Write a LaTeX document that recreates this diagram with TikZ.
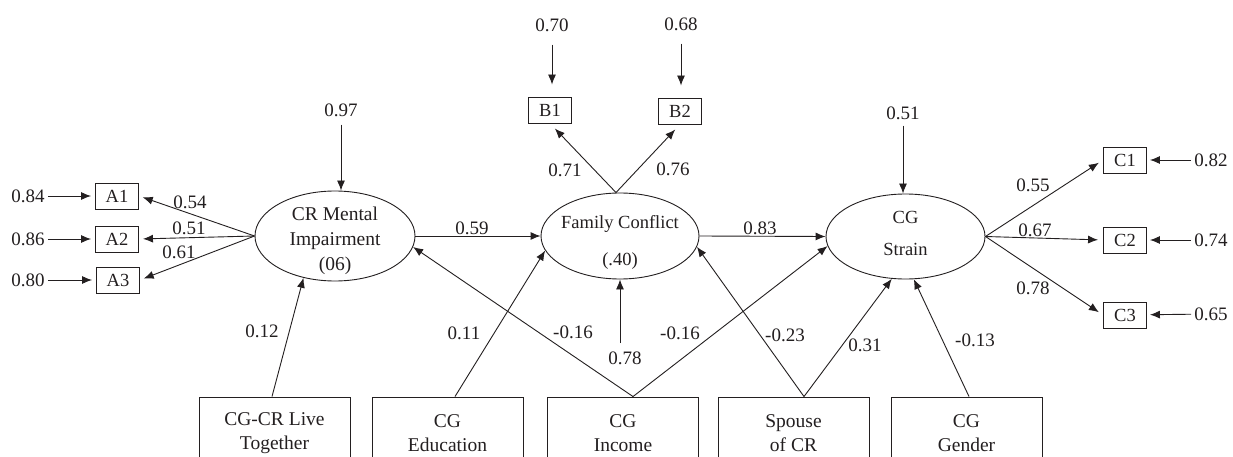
\documentclass[tikz,border=0pt]{standalone}
\usepackage{fontspec}
\setmainfont{Liberation Serif}
\usetikzlibrary{arrows.meta,shapes.geometric}
\definecolor{ink}{HTML}{231F20}
\begin{document}
\begin{tikzpicture}[x=1pt,y=-1pt,
  every node/.style={text=ink},
  num/.style={font=\fontsize{19}{23}\selectfont, inner sep=3pt},
  ind/.style={rectangle, draw=ink, line width=0.9pt, minimum width=43pt, minimum height=26pt, inner sep=0pt, font=\fontsize{18.5}{22}\selectfont},
  lat/.style={ellipse, draw=ink, line width=0.9pt, minimum width=160pt, minimum height=90pt, inner sep=0pt},
  ltext/.style={align=center, font=\fontsize{18.5}{24}\selectfont, inner sep=0pt},
  exo/.style={rectangle, draw=ink, line width=0.9pt, minimum width=151pt, minimum height=72pt, align=center, font=\fontsize{19.5}{24}\selectfont},
  arr/.style={draw=ink, line width=0.9pt, -{Latex[length=10pt,width=8pt]}}
]
\useasboundingbox (0,0) rectangle (1233,457);
\fill[white] (0,0) rectangle (1233,457);
\clip (0,0) rectangle (1233,457);

% latent variables
\node[lat] (crmi) at (335,236) {};
\node[lat, minimum width=158pt, minimum height=86pt] (fc) at (620,236) {};
\node[lat, minimum width=159pt, minimum height=85pt] (cgs) at (905.5,236.5) {};
\node[ltext, font=\fontsize{19.5}{25}\selectfont] (crmit) at (335,240.5) {CR Mental\\Impairment\\(06)};
\node[ltext] (fct) at (620,242) {Family Conflict\\[13pt](.40)};
\node[ltext] (cgst) at (905.5,233) {CG\\[8pt]Strain};

% indicators
\node[ind] (a1) at (117,196) {A1};
\node[ind] (a2) at (117,239) {A2};
\node[ind] (a3) at (118,280) {A3};
\node[ind] (b1) at (550,110) {B1};
\node[ind] (b2) at (680,111) {B2};
\node[ind] (c1) at (1125,160) {C1};
\node[ind] (c2) at (1125,240) {C2};
\node[ind] (c3) at (1125,315) {C3};

% error terms
\node[num] (e84) at (28,196) {0.84};
\node[num] (e86) at (28,239) {0.86};
\node[num] (e80) at (28,280) {0.80};
\node[num] (e70) at (552,25) {0.70};
\node[num] (e68) at (681,24) {0.68};
\node[num] (e97) at (341,110) {0.97};
\node[num] (e51) at (903,113) {0.51};
\node[num] (e82) at (1211,160) {0.82};
\node[num] (e74) at (1211,240) {0.74};
\node[num] (e65) at (1211,314) {0.65};
\node[num] (e78) at (625,358) {0.78};
\coordinate (c78) at (620,343);

% exogenous boxes
\node[exo] (live) at (274.5,433) {CG-CR Live\\Together};
\node[exo] (edu) at (447.5,433) {CG\\Education};
\node[exo] (inc) at (623,433) {CG\\Income};
\node[exo] (sp) at (793.5,433) {Spouse\\of CR};
\node[exo] (gen) at (966.5,433) {CG\\Gender};

% path labels
\node[num] (l54) at (190,202) {0.54};
\node[num] (l51) at (189,228) {0.51};
\node[num] (l61) at (179,252) {0.61};
\node[num] (l59) at (472,228) {0.59};
\node[num] (l83) at (760,228) {0.83};
\node[num] (l71) at (565,170) {0.71};
\node[num] (l76) at (673,169) {0.76};
\node[num] (l55) at (1033,185) {0.55};
\node[num] (l67) at (1035,230) {0.67};
\node[num] (l78) at (1033,288) {0.78};
\node[num] (l12) at (262,331) {0.12};
\node[num] (l11) at (464,333) {0.11};
\node[num] (l16a) at (573,332) {-0.16};
\node[num] (l16b) at (680,333) {-0.16};
\node[num] (l23) at (785,335) {-0.23};
\node[num] (l31) at (865,345) {0.31};
\node[num] (l13) at (975,340) {-0.13};

% error arrows
\draw[arr, shorten >=4pt] (e84) -- (a1);
\draw[arr, shorten >=4pt] (e86) -- (a2);
\draw[arr, shorten >=4pt] (e80) -- (a3);
\draw[arr, shorten <=5pt] (e97) -- (e97 |- crmi.north);
\draw[arr, shorten <=10pt, shorten >=12pt] (e70) -- (e70 |- b1.north);
\draw[arr, shorten <=10pt, shorten >=12pt] (e68) -- (e68 |- b2.north);
\draw[arr, shorten <=3pt] (e51) -- (e51 |- cgs.north);
\draw[arr, shorten >=3pt] (e82) -- (c1);
\draw[arr, shorten >=3pt] (e74) -- (c2);
\draw[arr, shorten >=3pt] (e65) -- (c3);
\draw[arr] (c78) -- (fc.south);

% loadings
\draw[arr, shorten >=4pt] (crmi.west) -- (a1.east);
\draw[arr, shorten >=4pt] (crmi.west) -- (a2.east);
\draw[arr, shorten >=4pt] (crmi.west) -- (a3.east);
\draw[arr, shorten >=7pt] ([xshift=-4pt]fc.north) -- (b1.south);
\draw[arr, shorten >=7pt] ([xshift=-4pt]fc.north) -- (b2.south);
\draw[arr, shorten >=5pt] (cgs.east) -- (c1.west);
\draw[arr, shorten >=5pt] (cgs.east) -- (c2.west);
\draw[arr, shorten >=5pt] (cgs.east) -- (c3.west);

% structural paths
\draw[arr] (crmi.east) -- (fc.west);
\draw[arr] (fc.east) -- (cgs.west);
\draw[arr] ([xshift=-2.5pt]live.north) -- (crmi.-127);
\draw[arr] ([xshift=7.5pt]edu.north) -- (fc.-169);
\draw[arr] ([xshift=10pt]inc.north) -- (crmi.-8);
\draw[arr] ([xshift=10pt]inc.north) -- (cgs.-173);
\draw[arr] ([xshift=10.5pt]sp.north) -- (fc.-8);
\draw[arr] ([xshift=10.5pt]sp.north) -- (cgs.-108);
\draw[arr] ([xshift=2.5pt]gen.north) -- (cgs.-79);
\end{tikzpicture}
\end{document}
